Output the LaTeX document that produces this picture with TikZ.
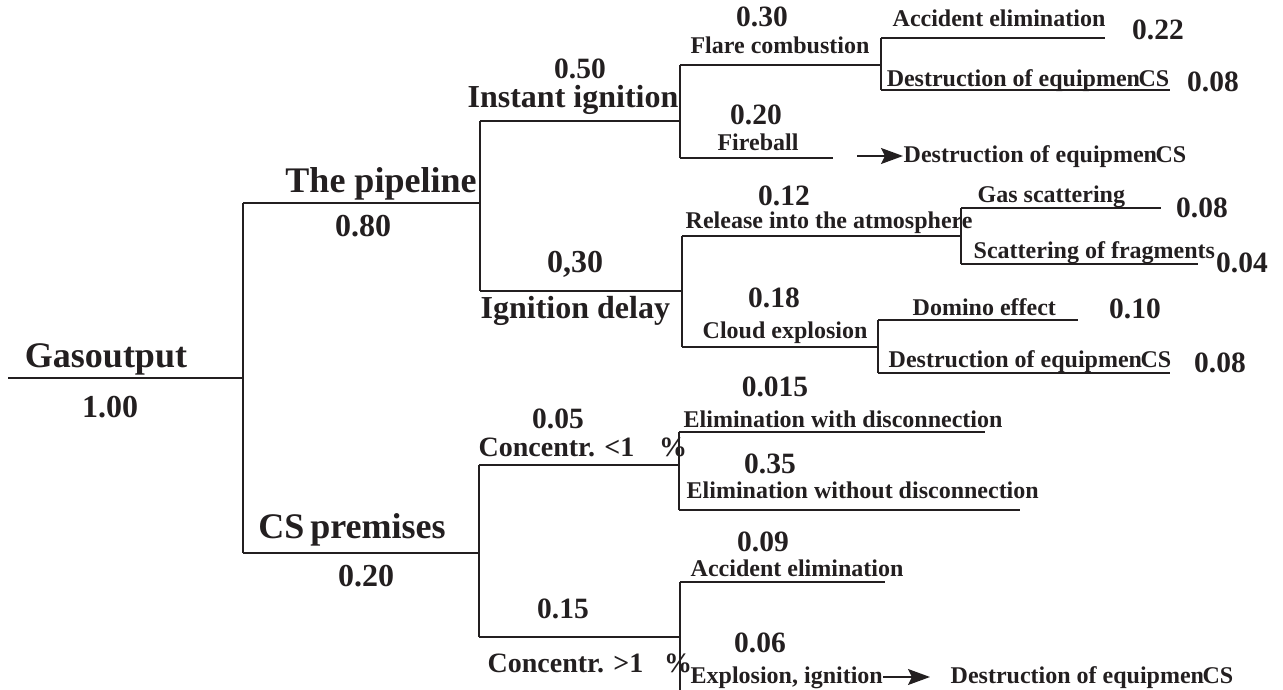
\documentclass[tikz,border=0pt]{standalone}
\usepackage{fontspec}
\setmainfont{Liberation Serif}
\usetikzlibrary{arrows.meta}
\definecolor{ink}{HTML}{231F20}
\begin{document}
\begin{tikzpicture}[x=1pt,y=-1pt,line width=1.4pt,color=ink,
  txt/.style={inner sep=0pt,text=ink},
  big/.style={txt,font=\fontsize{36}{40}\selectfont\bfseries},
  mid/.style={txt,font=\fontsize{32}{36}\selectfont\bfseries},
  num/.style={txt,font=\fontsize{29.5}{33}\selectfont\bfseries},
  conc/.style={txt,font=\fontsize{28}{32}\selectfont\bfseries},
  lab/.style={txt,font=\fontsize{24}{28}\selectfont\bfseries},
  arr/.style={-{Stealth[length=22pt,width=16pt,inset=4pt]}}]
\useasboundingbox (0,0) rectangle (1283,690);

% ---- junction coordinates ----
\coordinate (root) at (8,378);
\coordinate (j0) at (243,378);
\coordinate (j0t) at (243,203);
\coordinate (j0b) at (243,553);
\coordinate (j1t) at (480,121);
\coordinate (j1m) at (480,203);
\coordinate (j1b) at (480,291);
\coordinate (j2t) at (680,65);
\coordinate (j2b) at (680,158);
\coordinate (fbend) at (833,158);
\coordinate (j3t) at (881,38);
\coordinate (j3b) at (881,90);
\coordinate (acc1end) at (1105,38);
\coordinate (des1end) at (1170,90);
\coordinate (j4t) at (682,236);
\coordinate (j4b) at (682,347);
\coordinate (j5t) at (961,208);
\coordinate (j5b) at (961,264);
\coordinate (gasend) at (1161,208);
\coordinate (fragend) at (1198,264);
\coordinate (j6t) at (878,320);
\coordinate (j6b) at (878,373);
\coordinate (domend) at (1078,320);
\coordinate (des3end) at (1170,373);
\coordinate (j7t) at (479,465);
\coordinate (j7m) at (479,553);
\coordinate (j7b) at (479,637);
\coordinate (j8t) at (679,432);
\coordinate (j8m) at (679,465);
\coordinate (j8b) at (679,510);
\coordinate (ewend) at (985,432);
\coordinate (ewoend) at (1020,510);
\coordinate (j9t) at (680,582);
\coordinate (j9m) at (680,637);
\coordinate (j9b) at (680,690);
\coordinate (acc2end) at (885,582);
\coordinate (a1) at (857,156);
\coordinate (a2) at (930,677);

% ---- tree lines ----
\draw (root) -- (j0);
\draw (j0t) -- (j0b);
\draw (j0t) -- (j1m);
\draw (j1t) -- (j1b);
\draw (j1t) -- (j2t |- j1t);
\draw (j1b) -- (j4t |- j1b);
\draw (j2t) -- (j2t |- j1t) -- (j2b);
\draw (j2t) -- (j3t |- j2t);
\draw (j2b) -- (fbend);
\draw (j3t) -- (j3b);
\draw (j3t) -- (acc1end);
\draw (j3b) -- (des1end);
\draw (j4t) -- (j4b);
\draw (j4t) -- (j5t |- j4t);
\draw (j4b) -- (j6t |- j4b);
\draw (j5t) -- (j5b);
\draw (j5t) -- (gasend);
\draw (j5b) -- (fragend);
\draw (j6t) -- (j6b);
\draw (j6t) -- (domend);
\draw (j6b) -- (des3end);
\draw (j0b) -- (j7m);
\draw (j7t) -- (j7b);
\draw (j7t) -- (j8m);
\draw (j7b) -- (j9m);
\draw (j8t) -- (j8b);
\draw (j8t) -- (ewend);
\draw (j8b) -- (ewoend);
\draw (j9t) -- (j9b);
\draw (j9t) -- (acc2end);

% ---- labels ----
\node[big,anchor=base] (gas) at (106,367) {Gasoutput};
\node[mid,anchor=base] (p100) at (110,417) {1.00};
\node[big,anchor=base] (pipe) at (381,193) {The pipeline};
\node[mid,anchor=base] (p080) at (363,236) {0.80};
\node[big,anchor=base] (csp) at (352,538) {CS\,premises};
\node[mid,anchor=base] (p020) at (366,586) {0.20};

\node[num,anchor=base] (p050) at (580,79) {0.50};
\node[mid,anchor=base] (inst) at (573,108) {Instant ignition};
\node[mid,anchor=base] (p030b) at (575,272) {0,30};
\node[mid,anchor=base west] (delay) at (480,318) {Ignition delay};

\node[num,anchor=base] (p030) at (762,27) {0.30};
\node[lab,anchor=base] (flare) at (780,54) {Flare combustion};
\node[num,anchor=base] (p020b) at (756,125) {0.20};
\node[lab,anchor=base] (fire) at (758,150) {Fireball};

\node[lab,anchor=base] (acc1) at (999,27) {Accident elimination};
\node[num,anchor=base] (p022) at (1158,40) {0.22};
\node[lab,anchor=base] (des1) at (1028,87) {Destruction of equipmen\kern-1.5pt CS};
\node[num,anchor=base] (p008a) at (1213,92) {0.08};
\node[lab,anchor=base west] (des2) at (903,163) {Destruction of equipmen\kern-1.5pt CS};

\node[num,anchor=base] (p012) at (784,205) {0.12};
\node[lab,anchor=base west] (rel) at (685,229) {Release into the atmosphere};
\node[num,anchor=base] (p018) at (774,307) {0.18};
\node[lab,anchor=base west] (cloud) at (702,338) {Cloud explosion};

\node[lab,anchor=base west] (gs) at (977,203) {Gas scattering};
\node[num,anchor=base] (p008b) at (1202,218) {0.08};
\node[lab,anchor=base west] (frag) at (973,258) {Scattering of fragments};
\node[num,anchor=base] (p004) at (1242,272) {0.04};
\node[lab,anchor=base west] (dom) at (912,315) {Domino effect};
\node[num,anchor=base] (p010) at (1135,318) {0.10};
\node[lab,anchor=base west] (des3) at (888,367) {Destruction of equipmen\kern-1.5pt CS};
\node[num,anchor=base] (p008c) at (1220,372) {0.08};

\node[num,anchor=base] (p005) at (558,428) {0.05};
\node[conc,anchor=base west] (c1) at (478,456) {Concentr. <1};
\node[conc,anchor=base] (pc1) at (673,456) {\%};
\node[num,anchor=base] (p0015) at (775,396) {0.015};
\node[lab,anchor=base west] (ew) at (683,427) {Elimination with disconnection};
\node[num,anchor=base] (p035) at (770,473) {0.35};
\node[lab,anchor=base west] (ewo) at (686,498) {Elimination without disconnection};

\node[num,anchor=base] (p015) at (563,618) {0.15};
\node[conc,anchor=base west] (c2) at (487,672) {Concentr. >1};
\node[conc,anchor=base] (pc2) at (678,672) {\%};
\node[num,anchor=base] (p009) at (763,551) {0.09};
\node[lab,anchor=base west] (acc2) at (690,576) {Accident elimination};
\node[num,anchor=base] (p006) at (760,652) {0.06};
\node[lab,anchor=base west] (expl) at (690,683) {Explosion, ignition};
\node[lab,anchor=base west] (des4) at (950,683) {Destruction of equipmen\kern-1.5pt CS};

% ---- arrows ----
\draw[arr] (a1) -- (des2.west |- a1);
\draw[arr] (expl.east |- a2) -- (a2);
\end{tikzpicture}
\end{document}
